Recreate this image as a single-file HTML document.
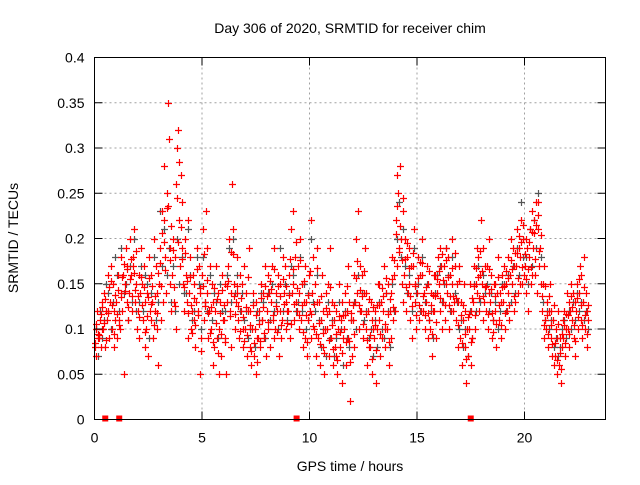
<!DOCTYPE html>
<html><head><meta charset="utf-8"><style>
body{margin:0;background:#fff}
svg text{font-family:"Liberation Sans",sans-serif;font-size:14px;fill:#000}
</style></head><body>
<svg id="chart" width="640" height="480" xmlns="http://www.w3.org/2000/svg">
<rect width="640" height="480" fill="#fff"/>
<g id="grid"></g><g id="gray"></g><g id="red"></g><g id="axes"></g>
<text x="350" y="33" text-anchor="middle">Day 306 of 2020, SRMTID for receiver chim</text>
<text x="350" y="471" text-anchor="middle">GPS time / hours</text>
<text transform="translate(18,238) rotate(-90)" text-anchor="middle">SRMTID / TECUs</text>
</svg>
<script>
const xTicks=[0,5,10,15,20];
const yTicks=[0,0.05,0.1,0.15,0.2,0.25,0.3,0.35,0.4];
const yTickLabels=["0","0.05","0.1","0.15","0.2","0.25","0.3","0.35","0.4"];
const binWidth=0.2;
const redBins=[
[.08,.10,.07,.12,.09],[.09,.11,.08,.13,.10],[.10,.14,.08,.12,.11],[.12,.16,.09,.13,.17],[.10,.15,.12,.08,.11],
[.13,.09,.16,.11,.10],[.14,.18,.12,.16,.05],[.15,.19,.13,.17,.11],[.14,.20,.16,.12,.18],[.17,.21,.13,.15,.10],
[.12,.16,.09,.14,.19],[.15,.11,.17,.08,.13],[.10,.14,.07,.18,.12],[.16,.11,.13,.09,.20],[.12,.17,.10,.14,.06],
[.15,.19,.11,.23,.13],[.22,.28,.18,.14,.25],[.35,.31,.19,.15,.12],[.16,.20,.13,.18,.10],[.26,.30,.32,.22,.17],
[.27,.24,.19,.15,.12],[.20,.16,.13,.22,.09],[.14,.18,.10,.12,.16],[.11,.15,.08,.13,.19],[.12,.17,.05,.14,.09],
[.16,.21,.11,.13,.23],[.14,.19,.09,.12,.17],[.10,.15,.06,.13,.08],[.12,.17,.09,.14,.05],[.10,.13,.07,.16,.11],
[.11,.15,.09,.05,.13],[.17,.20,.12,.14,.08],[.26,.21,.15,.10,.13],[.14,.18,.11,.09,.16],[.12,.15,.10,.08,.17],
[.10,.14,.07,.12,.19],[.08,.12,.06,.10,.14],[.07,.10,.05,.13,.09],[.09,.12,.08,.15,.11],[.11,.14,.09,.17,.07],
[.12,.16,.10,.14,.08],[.13,.17,.11,.09,.19],[.10,.14,.12,.16,.07],[.12,.15,.09,.11,.18],[.14,.17,.10,.13,.12],
[.12,.16,.09,.21,.14],[.15,.23,.11,.18,.13],[.12,.17,.10,.14,.20],[.11,.15,.08,.13,.17],[.09,.13,.07,.11,.16],
[.12,.22,.09,.14,.18],[.10,.15,.07,.13,.19],[.09,.13,.06,.11,.16],[.08,.12,.05,.10,.14],[.10,.15,.07,.12,.19],
[.09,.13,.06,.11,.08],[.07,.12,.05,.10,.15],[.08,.11,.04,.13,.09],[.10,.14,.06,.12,.17],[.09,.13,.02,.11,.07],
[.11,.16,.08,.13,.20],[.14,.23,.10,.12,.17],[.12,.16,.09,.14,.19],[.10,.14,.06,.12,.08],[.08,.13,.05,.11,.10],
[.09,.12,.04,.10,.15],[.11,.15,.07,.13,.09],[.12,.17,.08,.10,.14],[.10,.15,.06,.12,.09],[.14,.18,.11,.16,.12],
[.22,.27,.17,.25,.19],[.28,.20,.15,.23,.13],[.16,.20,.12,.18,.14],[.15,.19,.11,.17,.09],[.17,.21,.13,.15,.10],
[.14,.18,.11,.16,.12],[.16,.20,.12,.14,.10],[.13,.17,.09,.15,.11],[.10,.14,.07,.12,.16],[.12,.16,.09,.14,.18],
[.15,.19,.12,.17,.10],[.13,.17,.11,.15,.19],[.14,.18,.10,.16,.12],[.15,.20,.12,.13,.17],[.11,.15,.08,.13,.17],
[.09,.13,.06,.11,.15],[.08,.12,.04,.10,.07],[.10,.15,.06,.12,.09],[.13,.17,.10,.15,.19],[.14,.18,.12,.16,.22],
[.15,.19,.11,.13,.17],[.12,.17,.10,.14,.20],[.13,.16,.09,.11,.15],[.12,.15,.08,.14,.18],[.11,.14,.09,.13,.16],
[.13,.17,.10,.15,.12],[.14,.18,.11,.16,.20],[.15,.19,.12,.17,.13],[.17,.21,.14,.19,.15],[.18,.22,.15,.20,.16],
[.17,.20,.14,.19,.12],[.18,.21,.15,.23,.16],[.19,.22,.16,.24,.14],[.21,.24,.17,.19,.15],[.12,.15,.09,.17,.11],
[.10,.13,.08,.12,.15],[.09,.12,.07,.11,.06],[.07,.10,.05,.09,.12],[.06,.09,.04,.08,.11],[.09,.12,.07,.10,.14],
[.10,.13,.08,.12,.15],[.11,.14,.09,.13,.07],[.12,.15,.10,.14,.17],[.11,.16,.09,.13,.18],[.10,.14,.08,.12,.11]
];
const redBinsB=[
[.085,.105,.095],[.093,.117,.124],[.107,.133,.088],[.118,.146,.153],[.127,.094,.138],
[.117,.143,.104],[.135,.158,.172],[.142,.166,.124],[.155,.177,.136],[.162,.143,.186],
[.137,.113,.158],[.126,.146,.097],[.114,.135,.156],[.128,.147,.104],[.136,.118,.162],
[.173,.147,.206],[.196,.165,.234],[.236,.176,.214],[.187,.146,.125],[.245,.196,.285],
[.213,.177,.146],[.184,.153,.118],[.158,.127,.096],[.134,.104,.166],[.115,.145,.076],
[.147,.183,.125],[.154,.118,.096],[.124,.086,.145],[.107,.133,.074],[.118,.094,.143],
[.127,.086,.148],[.153,.114,.185],[.183,.136,.117],[.147,.125,.098],[.134,.113,.087],
[.124,.093,.158],[.104,.076,.127],[.084,.116,.064],[.106,.087,.134],[.124,.096,.147],
[.137,.108,.153],[.144,.116,.166],[.125,.097,.148],[.136,.104,.155],[.128,.148,.107],
[.138,.177,.105],[.166,.128,.196],[.145,.116,.176],[.127,.097,.153],[.115,.086,.138],
[.164,.117,.103],[.128,.094,.167],[.107,.083,.137],[.096,.074,.123],[.117,.088,.146],
[.104,.078,.126],[.095,.066,.114],[.097,.073,.116],[.115,.086,.148],[.087,.064,.118],
[.127,.094,.156],[.175,.126,.143],[.137,.105,.164],[.117,.088,.133],[.093,.067,.124],
[.104,.077,.127],[.126,.094,.145],[.137,.105,.156],[.117,.086,.133],[.155,.124,.176],
[.205,.236,.185],[.214,.176,.245],[.177,.146,.195],[.167,.136,.125],[.184,.148,.116],
[.156,.127,.174],[.173,.137,.115],[.146,.118,.164],[.127,.094,.138],[.137,.108,.155],
[.164,.134,.183],[.154,.127,.176],[.157,.126,.137],[.167,.136,.184],[.134,.104,.153],
[.115,.084,.126],[.095,.067,.113],[.117,.086,.134],[.148,.116,.167],[.157,.134,.186],
[.164,.137,.146],[.148,.117,.166],[.144,.118,.097],[.136,.105,.157],[.127,.104,.146],
[.147,.118,.164],[.156,.127,.176],[.166,.137,.184],[.184,.156,.203],[.196,.168,.215],
[.183,.155,.166],[.196,.168,.207],[.206,.177,.215],[.226,.186,.204],[.136,.104,.147],
[.116,.094,.136],[.104,.083,.126],[.084,.066,.106],[.074,.056,.095],[.104,.084,.117],
[.116,.094,.136],[.124,.104,.087],[.134,.113,.155],[.127,.104,.146],[.116,.094,.127]
];
const grayBins=[
[.10,.07],[.12,.09],[.11,.15],[.14,.10],[.13,.18],[.16,.12],[.19,.14],[.15,.11],[.17,.13],[.20,.12],
[.13,.17],[.12,.16],[.15,.09],[.14,.18],[.11,.13],[.23,.17],[.21,.16],[.19,.13],[.17,.12],[.20,.15],
[.18,.14],[.14,.21],[.16,.11],[.12,.18],[.15,.10],[.18,.13],[.12,.16],[.11,.14],[.13,.09],[.15,.12],
[.12,.16],[.19,.13],[.20,.14],[.16,.12],[.14,.11],[.12,.09],[.10,.13],[.08,.12],[.11,.14],[.13,.09],
[.14,.11],[.15,.12],[.13,.10],[.19,.12],[.15,.11],[.14,.17],[.16,.12],[.13,.18],[.12,.15],[.10,.14],
[.20,.13],[.12,.16],[.11,.08],[.10,.07],[.13,.09],[.11,.07],[.09,.13],[.10,.06],[.12,.09],[.08,.11],
[.13,.10],[.16,.12],[.14,.11],[.12,.09],[.10,.07],[.11,.08],[.13,.10],[.09,.14],[.12,.08],[.15,.12],
[.20,.24],[.18,.21],[.17,.14],[.16,.12],[.19,.14],[.15,.12],[.18,.13],[.15,.11],[.12,.09],[.14,.16],
[.17,.13],[.15,.19],[.16,.12],[.18,.14],[.13,.10],[.11,.08],[.10,.07],[.12,.09],[.15,.12],[.17,.13],
[.16,.14],[.15,.12],[.14,.11],[.13,.10],[.12,.15],[.15,.12],[.16,.13],[.17,.14],[.19,.16],[.24,.18],
[.18,.15],[.21,.17],[.22,.19],[.25,.18],[.13,.11],[.12,.10],[.11,.08],[.09,.07],[.08,.10],[.11,.09],
[.12,.10],[.13,.11],[.14,.12],[.13,.11],[.12,.10]
];
const flagTimes=[0.5,1.15,9.4,17.5];
const L=94.5,R=605.5,T=57.5,B=419.5;
const X=t=>L+t*21.5;
const Y=v=>B-(v/0.4)*(B-T);
const NS="http://www.w3.org/2000/svg";
function mk(tag,attrs,parent){const e=document.createElementNS(NS,tag);for(const k in attrs)e.setAttribute(k,attrs[k]);parent.appendChild(e);return e;}
const grid=document.getElementById('grid'),axes=document.getElementById('axes');
xTicks.forEach(t=>{const x=X(t);
 if(t>0){const g=mk('line',{x1:x,x2:x,y1:T,y2:B,stroke:'#a0a0a0','stroke-dasharray':'2,3'},grid);
 
 }
 mk('line',{x1:x,x2:x,y1:B,y2:B-8,stroke:'#000'},axes);mk('line',{x1:x,x2:x,y1:T,y2:T+8,stroke:'#000'},axes);
 const l=mk('text',{x:x,y:B+23,'text-anchor':'middle'},axes);l.textContent=t;
 
 });
yTicks.forEach((v,i)=>{const y=Y(v);
 if(i>0&&i<yTicks.length-1){const g=mk('line',{x1:L,x2:R,y1:y,y2:y,stroke:'#a0a0a0','stroke-dasharray':'2,3'},grid);
 
 }
 mk('line',{x1:L,x2:L+8,y1:y,y2:y,stroke:'#000'},axes);mk('line',{x1:R,x2:R-8,y1:y,y2:y,stroke:'#000'},axes);
 const l=mk('text',{x:L-10,y:y+5,'text-anchor':'end'},axes);l.textContent=yTickLabels[i];
 
 });
const frame=mk('rect',{x:L,y:T,width:R-L,height:B-T,fill:'none',stroke:'#000'},axes);


function plus(g,t,v,c,name){const x=Math.round(X(t))+0.5,y=Math.round(Y(v))+0.5;
 const p=mk('path',{d:`M${x-3.5} ${y}H${x+3.5}M${x} ${y-3.5}V${y+3.5}`,stroke:c,'stroke-width':1.2,fill:'none'},g);
 
 }
const gg=document.getElementById('gray'),rg=document.getElementById('red');
grayBins.forEach((b,i)=>b.forEach((v,j)=>plus(gg,i*binWidth+0.05+j*0.1,v,'#555','gray-point')));
redBins.forEach((b,i)=>b.forEach((v,j)=>plus(rg,i*binWidth+0.01+j*0.04,v,'#ff0000','red-point')));
redBinsB.forEach((b,i)=>b.forEach((v,j)=>plus(rg,i*binWidth+0.03+j*0.06,v,'#ff0000','red-point')));
flagTimes.forEach(t=>{const r=mk('rect',{x:X(t)-3,y:B-4,width:6,height:6,fill:'#ff0000'},rg);
 
 });
</script>
</body></html>
